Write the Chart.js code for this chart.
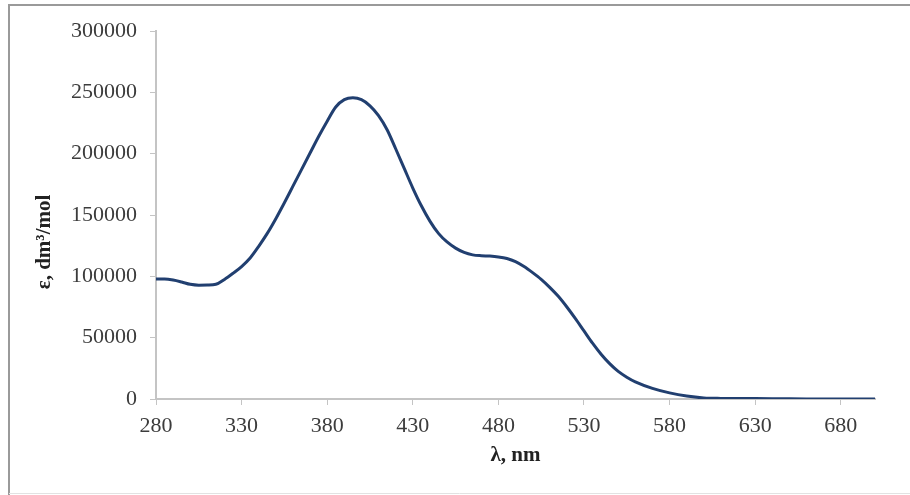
<!DOCTYPE html>
<html>
<head>
<meta charset="utf-8">
<script src="https://cdn.jsdelivr.net/npm/chart.js@4/dist/chart.umd.min.js"></script>
<style>
  html, body { margin: 0; padding: 0; background: #fff; }
  #wrap { width: 910px; height: 495px; }
</style>
</head>
<body>
<div id="wrap"><canvas id="spectrum" width="910" height="495"></canvas></div>
<script>
// --- DATA ---
const wavelengths = [280, 285, 290, 295, 300, 305, 310, 315, 320, 325, 330, 335, 340, 345, 350, 355, 360, 365, 370, 375,
  380, 385, 390, 395, 400, 405, 410, 415, 420, 425, 430, 435, 440, 445, 450, 455, 460, 465, 470, 475,
  480, 485, 490, 495, 500, 505, 510, 515, 520, 525, 530, 535, 540, 545, 550, 555, 560, 570, 580, 590,
  600, 610, 620, 640, 660, 680, 700];
const epsilon = [97800, 97800, 97000, 95400, 93500, 92800, 92900, 93500, 97500, 102500, 108000, 115000, 124500, 135000, 147000, 160000, 173500, 187000, 200500, 214000,
  226500, 238000, 244000, 245500, 244000, 239000, 231000, 219500, 204000, 188000, 172000, 157500, 145000, 135000, 128000, 123000, 119500, 117500, 116800, 116500,
  115800, 114500, 112000, 108000, 103000, 97500, 91000, 83700, 75000, 65500, 55500, 45500, 36500, 28800, 22500, 17800, 14000, 8700, 5000, 2400,
  900, 500, 400, 300, 100, 0, 0];
const xTicks = [280, 330, 380, 430, 480, 530, 580, 630, 680];
const xTitle = 'λ, nm';
const yTitle = 'ε, dm³/mol';

const serif = '"Liberation Serif", "Times New Roman", serif';
const tickColor = '#3c3c3c';
const axisColor = '#c4c4c4';

// frame round the picture + rotated y title
const decor = {
  id: 'decor',
  beforeDraw(chart) {
    const c = chart.ctx;
    c.save();
    c.fillStyle = '#fff';
    c.fillRect(0, 0, chart.width, chart.height);
    c.strokeStyle = '#9a9a9a';
    c.lineWidth = 2;
    c.beginPath();
    c.moveTo(9, 495); c.lineTo(9, 5); c.lineTo(910, 5);
    c.stroke();
    c.strokeStyle = '#e2e2e2';
    c.lineWidth = 1;
    c.beginPath();
    c.moveTo(9, 493.5); c.lineTo(910, 493.5);
    c.stroke();
    c.restore();
  },
  afterDraw(chart) {
    const c = chart.ctx;
    c.save();
    c.translate(45, 242);
    c.rotate(-Math.PI / 2);
    c.font = 'bold 21px ' + serif;
    c.fillStyle = '#222';
    c.textAlign = 'center';
    c.textBaseline = 'middle';
    c.fillText(yTitle, 0, 0);
    c.restore();
  }
};

new Chart(document.getElementById('spectrum'), {
  type: 'line',
  data: {
    datasets: [{
      data: wavelengths.map((w, i) => ({ x: w, y: epsilon[i] })),
      borderColor: '#213f70',
      borderWidth: 3,
      pointRadius: 0,
      fill: false,
      cubicInterpolationMode: 'monotone'
    }]
  },
  options: {
    responsive: false,
    animation: false,
    layout: { padding: { left: 0, top: 31, right: 35, bottom: 0 } },
    plugins: { legend: { display: false }, tooltip: { enabled: false } },
    scales: {
      x: {
        type: 'linear',
        min: 280,
        max: 700,
        afterFit: (s) => { s.height = 96; },
        afterBuildTicks: (s) => { s.ticks = xTicks.map(v => ({ value: v })); },
        grid: { drawOnChartArea: false, tickLength: 6, color: axisColor },
        border: { color: axisColor, width: 2 },
        ticks: { color: tickColor, font: { family: serif, size: 22 }, padding: 8, maxRotation: 0, callback: (v) => String(v) },
        title: { display: true, text: xTitle, color: '#222', font: { family: serif, size: 21, weight: 'bold' }, padding: { top: 0, bottom: 27 } }
      },
      y: {
        min: 0,
        max: 300000,
        afterFit: (s) => { s.width = 156; },
        grid: { drawOnChartArea: false, tickLength: 6, color: axisColor },
        border: { color: axisColor, width: 2 },
        ticks: { stepSize: 50000, color: tickColor, font: { family: serif, size: 22 }, padding: 13, callback: (v) => String(v) }
      }
    }
  },
  plugins: [decor]
});
</script>
</body>
</html>
